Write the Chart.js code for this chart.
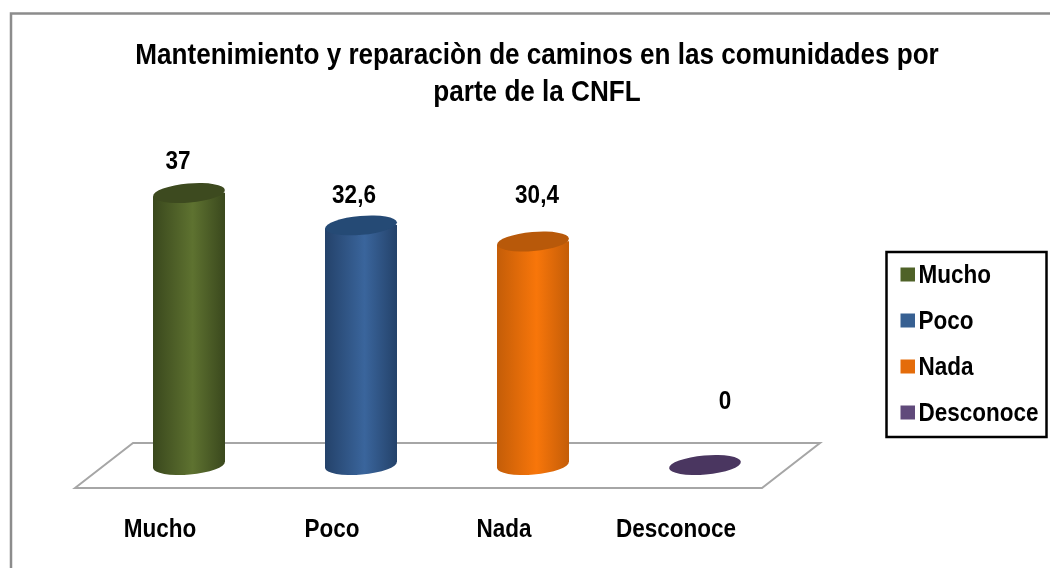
<!DOCTYPE html>
<html>
<head>
<meta charset="utf-8">
<title>Mantenimiento y reparaciòn de caminos</title>
<script src="https://cdn.jsdelivr.net/npm/chart.js@4"></script>
<style>
    html, body { margin: 0; padding: 0; background: #fff; overflow: hidden; }
    #wrap { width: 1050px; height: 568px; }
</style>
</head>
<body>
<div id="wrap"><canvas id="chart" width="1050" height="568"></canvas></div>
<script>
var titleLines = ['Mantenimiento y reparaciòn de caminos en las comunidades por', 'parte de la CNFL'];
var categories = ['Mucho', 'Poco', 'Nada', 'Desconoce'];
var values = [37, 32.6, 30.4, 0];

var swatchColors = ['#4f6228', '#376092', '#e46c0a', '#604a7b'];
var edgeColors = ['#3a481d', '#24426a', '#c45d08', '#453358'];
var midColors = ['#5e7230', '#3a659c', '#f8760a', '#604a7b'];
var capColors = ['#3d4a1f', '#254a75', '#b8590a', '#4a3660'];

// hand placed value labels in the original, offset from top of each bar
var labelShiftX = [-11, -7, 4, 20];
var labelShiftY = [-31, -29, -45, -63];

var fontName = '"Liberation Sans", sans-serif';
var barWidth = 72;
var capRadius = 9.5;
var tilt = 5 * Math.PI / 180;
var titleCenter = 537;
var textSqueeze = 0.9;

function swatch(i) {
    // 20px canvas, swatch sits off centre so it lines up with the text
    var c = document.createElement('canvas');
    c.width = 20;
    c.height = 20;
    var g = c.getContext('2d');
    g.fillStyle = swatchColors[i];
    g.fillRect(6, 1, 14, 14);
    return c;
}

function barGradient(context) {
    var chart = context.chart;
    var i = context.dataIndex;
    if (!chart.scales.x) return swatchColors[i];
    var x = chart.scales.x.getPixelForValue(i);
    var grad = chart.ctx.createLinearGradient(x - barWidth / 2, 0, x + barWidth / 2, 0);
    grad.addColorStop(0, edgeColors[i]);
    grad.addColorStop(0.55, midColors[i]);
    grad.addColorStop(1, edgeColors[i]);
    return grad;
}

var cylinderPlugin = {
    id: 'cylinder',
    afterLayout: function(chart) {
        // legend sits off to the right of the plot, title is a bit right of centre
        chart.legend.left = 882;
        chart.legend.top = 243;
        chart.legend.right = 1050;
        chart.legend.bottom = 568;
        chart.titleBlock.left = 0;
        chart.titleBlock.right = titleCenter * 2;
    },
    beforeDraw: function(chart) {
        var ctx = chart.ctx;
        var a = chart.chartArea;
        ctx.save();
        // outer frame
        ctx.strokeStyle = '#8c8c8c';
        ctx.lineWidth = 2.5;
        ctx.beginPath();
        ctx.moveTo(11, 568);
        ctx.lineTo(11, 13.5);
        ctx.lineTo(1050, 13.5);
        ctx.stroke();
        // floor
        ctx.strokeStyle = '#a6a6a6';
        ctx.lineWidth = 2;
        ctx.beginPath();
        ctx.moveTo(a.left - 28, a.bottom + 23);
        ctx.lineTo(a.left + 30, a.bottom - 22);
        ctx.lineTo(a.right + 29, a.bottom - 22);
        ctx.lineTo(a.right - 29, a.bottom + 23);
        ctx.closePath();
        ctx.stroke();
        ctx.restore();
    },
    beforeDatasetDraw: function(chart) {
        var ctx = chart.ctx;
        var bars = chart.getDatasetMeta(0).data;
        var dy = Math.sin(tilt) * barWidth / 2;
        bars.forEach(function(bar, i) {
            if (values[i] === 0) return;
            ctx.fillStyle = barGradient({ chart: chart, dataIndex: i });
            ctx.beginPath();
            ctx.ellipse(bar.x, bar.base, barWidth / 2, capRadius, -tilt, 0, Math.PI * 2);
            ctx.fill();
            // wedge between the flat bar end and the slanted base
            ctx.beginPath();
            ctx.moveTo(bar.x - barWidth / 2, bar.base - dy - 1);
            ctx.lineTo(bar.x + barWidth / 2, bar.base - dy - 1);
            ctx.lineTo(bar.x + barWidth / 2, bar.base - dy);
            ctx.lineTo(bar.x - barWidth / 2, bar.base + dy);
            ctx.closePath();
            ctx.fill();
        });
        // cut the square bar ends to the slant of the caps
        ctx.save();
        ctx.beginPath();
        bars.forEach(function(bar) {
            ctx.moveTo(bar.x - barWidth / 2, bar.y + dy);
            ctx.lineTo(bar.x + barWidth / 2, bar.y - dy);
            ctx.lineTo(bar.x + barWidth / 2, bar.base - dy);
            ctx.lineTo(bar.x - barWidth / 2, bar.base + dy);
            ctx.closePath();
        });
        ctx.clip();
    },
    afterDatasetDraw: function(chart) {
        chart.ctx.restore();
    },
    afterDatasetsDraw: function(chart) {
        var ctx = chart.ctx;
        var bars = chart.getDatasetMeta(0).data;
        ctx.save();
        bars.forEach(function(bar, i) {
            ctx.beginPath();
            ctx.ellipse(bar.x, bar.y, barWidth / 2, capRadius, -tilt, 0, Math.PI * 2);
            ctx.fillStyle = capColors[i];
            ctx.fill();
            // value label
            ctx.fillStyle = '#000';
            ctx.font = 'bold 25px ' + fontName;
            ctx.textAlign = 'center';
            ctx.textBaseline = 'middle';
            ctx.fillText(String(values[i]).replace('.', ','), bar.x + labelShiftX[i], bar.y + labelShiftY[i]);
        });
        ctx.restore();
    },
    afterDraw: function(chart) {
        // legend frame
        var ctx = chart.ctx;
        ctx.save();
        ctx.strokeStyle = '#000';
        ctx.lineWidth = 2.5;
        ctx.strokeRect(886.5, 252, 160, 185);
        ctx.restore();
    }
};

var canvasCtx = document.getElementById('chart').getContext('2d');

// no narrow bold is installed, so squeeze every text draw through maxWidth
var plainFillText = canvasCtx.fillText;
canvasCtx.fillText = function(text, x, y) {
    plainFillText.call(canvasCtx, text, x, y, canvasCtx.measureText(text).width * textSqueeze);
};

var chart = new Chart(canvasCtx, {
    type: 'bar',
    data: {
        labels: categories,
        datasets: [{
            data: values,
            backgroundColor: barGradient,
            borderWidth: 0,
            barThickness: barWidth
        }]
    },
    options: {
        responsive: false,
        animation: false,
        layout: { padding: { left: 103, right: 259, top: 0, bottom: 26 } },
        scales: {
            x: {
                afterFit: function(scale) { scale.height = 77; },
                grid: { display: false, drawTicks: false },
                border: { display: false },
                ticks: {
                    color: '#000',
                    font: { family: fontName, size: 25, weight: 'bold' },
                    padding: 50,
                    labelOffset: -29,
                    maxRotation: 0
                }
            },
            y: { display: false, min: 0, max: 40 }
        },
        plugins: {
            tooltip: { enabled: false },
            title: {
                display: true,
                text: titleLines,
                color: '#000',
                font: { family: fontName, size: 29, weight: 'bold', lineHeight: 1.276 },
                padding: { top: 37, bottom: 60 }
            },
            legend: {
                position: 'chartArea',
                align: 'start',
                labels: {
                    color: '#000',
                    font: { family: fontName, size: 25, weight: 'bold' },
                    usePointStyle: true,
                    pointStyleWidth: 3,
                    padding: 21,
                    generateLabels: function() {
                        return categories.map(function(name, i) {
                            return { text: name, pointStyle: swatch(i), fillStyle: swatchColors[i], lineWidth: 0, strokeStyle: 'transparent', index: i };
                        });
                    }
                }
            }
        }
    },
    plugins: [cylinderPlugin]
});
</script>
</body>
</html>
